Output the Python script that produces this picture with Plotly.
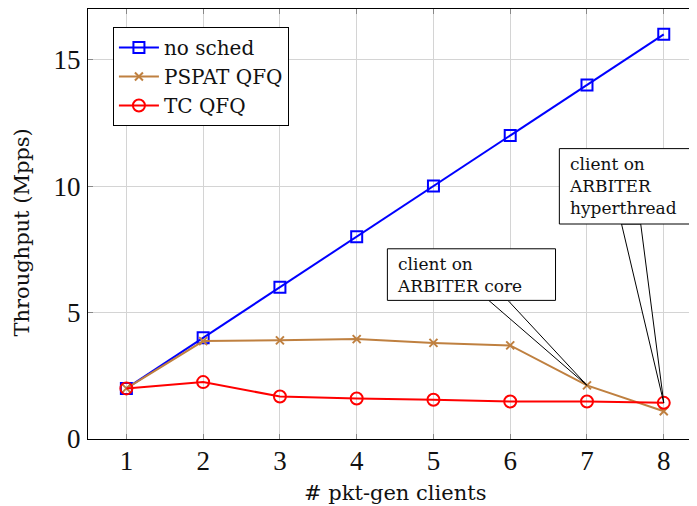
import plotly.graph_objects as go

clients = [1, 2, 3, 4, 5, 6, 7, 8]
no_sched = [2, 4, 6, 8, 10, 12, 14, 16]
pspat_qfq = [2, 3.87, 3.9, 3.95, 3.8, 3.7, 2.12, 1.1]
tc_qfq = [2, 2.25, 1.68, 1.6, 1.55, 1.48, 1.48, 1.43]
y_ticks = [0, 5, 10, 15]

FONT = "DejaVu Serif"
TICKFONT = "Liberation Serif"
TXT = "#111"
fig = go.Figure()
fig.add_trace(go.Scatter(x=clients, y=no_sched, name="no sched", mode="lines+markers",
                         line=dict(color="#0000ff", width=2),
                         marker=dict(symbol="square-open", size=11, color="#0000ff", line=dict(width=2))))
fig.add_trace(go.Scatter(x=clients, y=pspat_qfq, name="PSPAT QFQ", mode="lines+markers",
                         line=dict(color="#bf8040", width=2),
                         marker=dict(symbol="x-thin-open", size=8, color="#bf8040", line=dict(width=2, color="#bf8040"))))
fig.add_trace(go.Scatter(x=clients, y=tc_qfq, name="TC QFQ", mode="lines+markers",
                         line=dict(color="#ff0000", width=2),
                         marker=dict(symbol="circle-open", size=12, color="#ff0000", line=dict(width=2))))

# callouts: wedge + box + text
callouts = [
    dict(text="client on<br>ARBITER core", box=(4.40, 6.59, 5.48, 7.52), base=(5.72, 5.97), tip=(7, 2.12)),
    dict(text="client on<br>ARBITER<br>hyperthread", box=(6.64, 8.35, 8.5, 11.48), base=(7.45, 7.70), tip=(8, 1.43)),
]
for c in callouts:
    x0, x1, y0, y1 = c["box"]
    b0, b1 = c["base"]
    tx, ty = c["tip"]
    fig.add_shape(type="path", path=f"M {b0} {y0} L {tx} {ty} L {b1} {y0} Z",
                  xref="x", yref="y", line=dict(color="black", width=1), fillcolor="white", layer="above")
    fig.add_shape(type="rect", x0=x0, x1=x1, y0=y0, y1=y1, xref="x", yref="y",
                  line=dict(color="black", width=1), fillcolor="white", layer="above")
    fig.add_annotation(x=x0 + 0.1, y=(y0 + y1) / 2, xref="x", yref="y", text=c["text"],
                       showarrow=False, xanchor="left", yanchor="middle", align="left",
                       font=dict(family=FONT, size=17, color=TXT))

# axis titles
fig.add_annotation(x=0.505, y=-0.1256, xref="paper", yref="paper", text="# pkt-gen clients",
                   showarrow=False, xanchor="center", yanchor="middle",
                   font=dict(family=FONT, size=21, color=TXT))
fig.add_annotation(x=-0.1086, y=0.48, xref="paper", yref="paper", text="Throughput (Mpps)",
                   showarrow=False, xanchor="center", yanchor="middle", textangle=-90,
                   font=dict(family=FONT, size=21, color=TXT))

# browser body adds an 8px offset; figure sized to the remaining area
fig.update_layout(
    width=689, height=498,
    margin=dict(l=80, r=1, t=1, b=67),
    paper_bgcolor="white", plot_bgcolor="white",
    font=dict(family=FONT, size=20, color=TXT),
    showlegend=True,
    legend=dict(x=0.041, y=0.958, xanchor="left", yanchor="top", bgcolor="white",
                bordercolor="black", borderwidth=1, font=dict(family=FONT, size=20, color=TXT),
                itemwidth=40),
)
fig.update_xaxes(range=[0.5, 8.42], tickvals=clients, ticks="inside", ticklen=5, tickcolor="#888",
                 showgrid=True, gridcolor="#d4d4d4", gridwidth=1, showline=True, linecolor="black",
                 linewidth=1, mirror="allticks", zeroline=False, automargin=False,
                 tickfont=dict(family=TICKFONT, size=27, color=TXT), ticklabelstandoff=-2)
fig.update_yaxes(range=[0, 17], tickvals=y_ticks, ticks="inside", ticklen=5, tickcolor="#888",
                 showgrid=True, gridcolor="#d4d4d4", gridwidth=1, showline=True, linecolor="black",
                 linewidth=1, mirror="allticks", zeroline=False, automargin=False,
                 tickfont=dict(family=TICKFONT, size=27, color=TXT), ticklabelstandoff=1)

fig.write_html("out.html")
